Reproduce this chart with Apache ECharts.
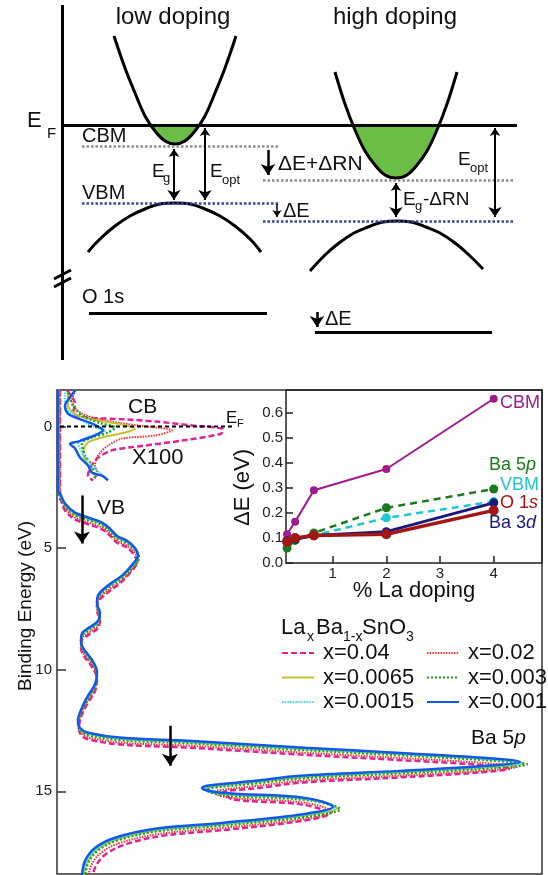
<!DOCTYPE html>
<html>
<head>
<meta charset="utf-8">
<title>La-doped BaSnO3 band shifts</title>
<script src="https://cdn.jsdelivr.net/npm/echarts@6/dist/echarts.min.js"></script>
<style>
  html, body { margin: 0; padding: 0; background: #fff; }
  #chart { width: 548px; height: 875px; }
</style>
</head>
<body>
<div id="chart"></div>
<script>
// ---------------- spectra (binding energy in eV, intensity in arb. units) ----------------
const beX001 = [-1.5,2.7,2.76,3.17,3.54,3.74,3.95,4.2,4.5,4.7,5.0,5.3,5.64,6.13,6.54,6.95,7.3,7.65,8.0,8.3,8.5,8.8,9.1,9.6,10.1,10.6,11.07,11.56,12.1,12.4,12.59,12.8,12.92,13.21,13.42,13.62,13.79,13.95,14.16,14.36,14.57,14.77,14.86,15.06,15.27,15.64,15.93,16.3,16.54,16.91,17.33,17.86,18.44];
const inX001 = [1,1,3,8,18,31,45,53,60,70,78,81,76,65,51,41,40,43,41,31,25,24,26,35,40,38,31,25,21,23,31,65,131,248,343,426,463,430,343,243,198,150,145,165,248,276,248,165,98,58,38,28,25];
const beX0015 = [-1.5,2.74,2.8,3.21,3.58,3.78,3.99,4.24,4.54,4.74,5.04,5.34,5.68,6.17,6.58,6.99,7.34,7.69,8.04,8.34,8.54,8.84,9.14,9.64,10.14,10.64,11.11,11.6,12.14,12.44,12.63,12.84,12.96,13.25,13.46,13.66,13.83,13.99,14.2,14.4,14.61,14.81,14.9,15.1,15.31,15.68,15.97,16.34,16.58,16.95,17.37,17.9,18.48];
const inX0015 = [2,2,3,8,18,31,45,53,60,70,78,81,76,65,51,41,40,43,41,31,25,24,26,35,40,38,31,25,21,23,31,65,131,248,343,427,465,431,343,243,198,151,146,166,249,278,249,166,99,59,39,29,26];
const beX0065 = [-1.5,2.76,2.82,3.23,3.6,3.8,4.01,4.26,4.56,4.76,5.06,5.36,5.7,6.19,6.6,7.01,7.36,7.71,8.06,8.36,8.56,8.86,9.16,9.66,10.16,10.66,11.13,11.62,12.16,12.46,12.65,12.86,12.98,13.27,13.48,13.68,13.85,14.01,14.22,14.42,14.63,14.83,14.92,15.12,15.33,15.7,15.99,16.36,16.6,16.97,17.39,17.92,18.5];
const inX0065 = [2,2,3,8,18,31,45,53,60,70,78,81,76,65,51,41,40,43,41,31,25,24,26,35,40,38,31,25,21,23,31,65,131,248,344,428,467,432,344,244,199,152,148,167,250,280,250,167,100,60,40,30,27];
const beX003 = [-1.5,2.8,2.86,3.27,3.64,3.84,4.05,4.3,4.6,4.8,5.1,5.4,5.74,6.23,6.64,7.05,7.4,7.75,8.1,8.4,8.6,8.9,9.2,9.7,10.2,10.7,11.17,11.66,12.2,12.5,12.69,12.9,13.02,13.31,13.52,13.72,13.89,14.05,14.26,14.46,14.67,14.87,14.96,15.16,15.37,15.74,16.03,16.4,16.64,17.01,17.43,17.96,18.54];
const inX003 = [2,2,3,8,18,31,45,53,60,70,79,82,77,65,51,41,40,43,41,31,25,24,26,35,40,38,31,25,21,23,31,65,131,249,345,430,470,434,345,245,200,154,150,168,252,283,252,168,101,61,41,31,28];
const beX02 = [-1.5,2.9,2.96,3.37,3.74,3.94,4.15,4.4,4.7,4.9,5.2,5.5,5.84,6.33,6.74,7.15,7.5,7.85,8.2,8.5,8.7,9.0,9.3,9.8,10.3,10.8,11.27,11.76,12.3,12.6,12.79,13.0,13.12,13.41,13.62,13.82,13.99,14.15,14.36,14.56,14.77,14.97,15.06,15.26,15.47,15.84,16.13,16.5,16.74,17.11,17.53,18.06,18.64];
const inX02 = [3,3,4,8,18,31,45,53,60,70,78,81,76,65,51,41,40,43,41,31,25,24,26,35,40,38,31,25,22,24,32,65,131,247,340,422,460,427,341,245,202,160,158,172,248,275,248,168,104,64,44,34,31];
const beX04 = [-1.5,2.98,3.04,3.45,3.82,4.02,4.23,4.48,4.78,4.98,5.28,5.58,5.92,6.41,6.82,7.23,7.58,7.93,8.28,8.58,8.78,9.08,9.38,9.88,10.38,10.88,11.35,11.84,12.38,12.68,12.87,13.08,13.2,13.49,13.7,13.9,14.07,14.23,14.44,14.64,14.85,15.05,15.14,15.34,15.55,15.92,16.21,16.58,16.82,17.19,17.61,18.14,18.72];
const inX04 = [3,3,4,8,18,31,45,53,60,70,77,80,75,64,51,41,40,43,41,31,25,24,26,35,40,38,31,25,22,24,32,64,129,244,336,418,452,421,338,245,204,166,168,176,246,272,246,170,107,68,48,38,35];

// conduction band region, magnified x100: [intensity, binding energy]
const cbX001 = [[18,-1.48],[13,-1.19],[8,-0.86],[11,-0.53],[21,-0.33],[35,-0.12],[46,0.16],[38,0.37],[21,0.62],[13,0.72],[18,0.9],[23,1.28],[31,1.6],[35,1.9],[45,2.02],[51,2.22]];
const cbX0015 = [[8,-1.4],[8,-0.86],[21,-0.37],[38,0.04],[48,0.16],[35,0.37],[21,0.66],[25,1.07],[35,1.6],[48,2.1]];
const cbX003 = [[11,-1.4],[16,-0.86],[25,-0.45],[45,-0.12],[58,0.04],[51,0.25],[35,0.45],[25,0.7],[28,1.2],[35,1.6],[38,2.14]];
const cbX0065 = [[11,-1.4],[11,-0.86],[21,-0.45],[41,-0.25],[65,-0.08],[78,0.08],[68,0.25],[45,0.45],[31,0.66],[26,1.07],[31,1.6],[38,2.0]];
const cbX02 = [[18,-1.48],[15,-1.0],[25,-0.53],[48,-0.25],[81,-0.04],[115,0.16],[98,0.37],[65,0.5],[51,0.78],[41,1.2],[38,1.6],[40,1.9],[38,2.14]];
const cbX04 = [[10,-1.48],[18,-0.95],[16,-0.55],[30,-0.37],[65,-0.3],[100,-0.2],[135,-0.04],[166,0.12],[164,0.3],[125,0.58],[85,0.8],[55,0.98],[40,1.32],[33,1.73],[31,2.02],[36,2.22]];

const efLine = [[3,0],[178,0]];
const specArrows = [[25,2.84,25,4.81],[113,12.3,113,13.95]];
const beTicks = [0,5,10,15];

// ---------------- inset: shift vs La doping ----------------
const dopingPct = [0.15,0.3,0.65,2,4];
const dECBM = [0.115,0.165,0.29,0.375,0.655];
const dEBa5p = [0.06,0.09,0.12,0.22,0.295];
const dEVBM = [0.09,0.1,0.11,0.18,0.245];
const dEBa3d = [0.09,0.095,0.11,0.125,0.24];
const dEO1s = [0.085,0.1,0.11,0.115,0.21];
const dopingTicks = [1,2,3,4];
const dETicks = [0,0.1,0.2,0.3,0.4,0.5,0.6];

// ---------------- band diagram (drawing units) ----------------
const cbLowX = [114,125,135,145,155,165,175,185,195,205,215,225,236];
const cbLowY = [36,68,93,116,131,141,144,141,131,116,93,68,36];
const vbLowX = [88,100,115,130,145,160,175,190,205,220,235,250,261];
const vbLowY = [252,239,226,216,209,204,203,204,209,216,226,239,252];
const cbHighX = [335,345,355,365,375,385,396,407,417,427,437,447,457];
const cbHighY = [72,104,130,151,165,175,178,175,165,151,130,104,72];
const vbHighX = [310,325,339,354,368,383,397,411,426,440,455,469,483];
const vbHighY = [271,255,243,233,227,222,221,222,227,233,243,255,269];
const fillLowX = [148,155,160,165,170,175,180,185,190,195,200];
const fillLowY = [125,132,137,141,143,144,143,141,137,132,125];
const fillHighX = [353,355,365,375,385,396,407,417,427,437,439];
const fillHighY = [125,130,151,165,175,178,175,165,151,130,125];
// segments [x1, y1, x2, y2]
const solidSegs = [[62,5,62,360],[62,125,517,125],[54,279,71,270],[54,287,71,278],[89,313,267,313],[315,332,492,332]];
const cbmLevels = [[82,146,278,146],[263,180,515,180]];
const vbmLevels = [[82,203,278,203],[263,221,515,221]];
const bothArrows = [[174,149,174,200],[205,128,205,200],[396,183,396,217],[495,128,495,217]];
const downArrows = [[268,150,268,175],[317,312,317,327]];
const smallArrows = [[277,204,277,217]];

const FONT = '"Liberation Sans", Arial, sans-serif';
const zip = (a, b) => a.map((v, i) => [v, b[i]]);
const segData = segs => segs.map(s => ({ coords: [[s[0], s[1]], [s[2], s[3]]] }));

const chart = echarts.init(document.getElementById('chart'), null, { renderer: 'canvas' });

function curve(xs, ys) {
    return {
        type: 'line', xAxisIndex: 0, yAxisIndex: 0, data: zip(xs, ys), smooth: 0.4,
        symbol: 'none', silent: true, z: 3, lineStyle: { color: '#000', width: 3 }
    };
}
function fill(xs, ys) {
    return {
        type: 'custom', xAxisIndex: 0, yAxisIndex: 0, silent: true, z: 2, data: zip(xs, ys),
        renderItem: function (params, api) {
            if (params.dataIndex !== 0) return null;
            const pts = xs.map((x, i) => api.coord([x, ys[i]]));
            return { type: 'polygon', shape: { points: pts }, style: { fill: '#6cbd45' } };
        }
    };
}
function segs(data, style, symbol, size, ax) {
    return {
        type: 'lines', coordinateSystem: 'cartesian2d', xAxisIndex: ax || 0, yAxisIndex: ax || 0,
        silent: true, z: 4, polyline: false, symbol: symbol || 'none', symbolSize: size || 10,
        lineStyle: Object.assign({ color: '#000', width: 2, opacity: 1, curveness: 0 }, style),
        data: segData(data)
    };
}

// spectra styles
const specStyle = {
    'x=0.04':   { color: '#e0219b', width: 2.5, type: [6, 3] },
    'x=0.02':   { color: '#f5332f', width: 2, type: [1.5, 1.2] },
    'x=0.0065': { color: '#c4c12e', width: 2, type: 'solid' },
    'x=0.003':  { color: '#1fa01f', width: 2.5, type: [2, 2] },
    'x=0.0015': { color: '#35e0f0', width: 2, type: [1.5, 1.2] },
    'x=0.001':  { color: '#1357e8', width: 2.5, type: 'solid' }
};
const specMain = [
    ['x=0.04', zip(inX04, beX04), cbX04],
    ['x=0.02', zip(inX02, beX02), cbX02],
    ['x=0.0065', zip(inX0065, beX0065), cbX0065],
    ['x=0.003', zip(inX003, beX003), cbX003],
    ['x=0.0015', zip(inX0015, beX0015), cbX0015],
    ['x=0.001', zip(inX001, beX001), cbX001]
];

const series = [
    fill(fillLowX, fillLowY), fill(fillHighX, fillHighY),
    curve(cbLowX, cbLowY), curve(vbLowX, vbLowY), curve(cbHighX, cbHighY), curve(vbHighX, vbHighY),
    segs(solidSegs, { width: 3 }),
    segs(cbmLevels, { color: '#8c8c8c', width: 2.5, type: [2.5, 2] }),
    segs(vbmLevels, { color: '#3546a6', width: 2.5, type: [2.5, 2] }),
    segs(bothArrows, { width: 2 }, ['arrow', 'arrow'], [8, 10]),
    segs(downArrows, { width: 2.5 }, ['none', 'arrow'], [9, 11]),
    segs(smallArrows, { width: 1.5 }, ['none', 'arrow'], [6, 7])
];

specMain.forEach(function (s) {
    const st = specStyle[s[0]];
    series.push({
        name: s[0], type: 'line', xAxisIndex: 1, yAxisIndex: 1, data: s[1], smooth: 0.35,
        symbol: 'none', silent: true, z: 3, lineStyle: st, itemStyle: { color: st.color }
    });
    series.push({
        name: s[0], type: 'line', xAxisIndex: 1, yAxisIndex: 1, data: s[2], smooth: 0.3,
        symbol: 'none', silent: true, z: 3, lineStyle: st, itemStyle: { color: st.color }
    });
});
series.push({
    type: 'line', xAxisIndex: 1, yAxisIndex: 1, data: efLine, symbol: 'none', silent: true, z: 5,
    lineStyle: { color: '#000', width: 2, type: [4, 3] }
});
series.push(segs(specArrows, { width: 2.5 }, ['none', 'arrow'], [9, 12], 1));

// inset
const insetDefs = [
    [dECBM, '#a0198f', 2, 'solid', 8],
    [dEBa5p, '#1b7a1b', 2.5, [7, 5], 9],
    [dEVBM, '#22c5d4', 2.5, [7, 5], 9],
    [dEBa3d, '#1b1a7a', 3, 'solid', 9],
    [dEO1s, '#a31616', 3.5, 'solid', 10]
];
insetDefs.forEach(function (d) {
    series.push({
        type: 'line', xAxisIndex: 2, yAxisIndex: 2, data: zip(dopingPct, d[0]), silent: true, z: 6,
        symbol: 'circle', symbolSize: d[4], clip: false,
        lineStyle: { color: d[1], width: d[2], type: d[3] }, itemStyle: { color: d[1] }
    });
});

function txt(x, y, text, size, color, extra) {
    return {
        type: 'text', x: x, y: y, silent: true, z: 100,
        style: Object.assign({
            text: text, fontSize: size, fontFamily: FONT, fill: color || '#111',
            align: 'left', verticalAlign: 'middle'
        }, extra || {})
    };
}
function italicTail(x, y, a, b, size, color) {
    return txt(x, y, '{n|' + a + '}{i|' + b + '}', size, color, {
        rich: {
            n: { fontSize: size, fontFamily: FONT, fill: color },
            i: { fontSize: size, fontFamily: FONT, fill: color, fontStyle: 'italic' }
        }
    });
}

const graphics = [
    txt(173, 17, 'low doping', 24, '#111', { align: 'center' }),
    txt(395, 17, 'high doping', 24, '#111', { align: 'center' }),
    txt(27, 121, 'E', 22), txt(47, 134, 'F', 15),
    txt(82, 136, 'CBM', 20), txt(82, 193, 'VBM', 20),
    txt(152, 172, 'E', 19), txt(163, 178, 'g', 13),
    txt(210, 172, 'E', 19), txt(222, 180, 'opt', 13),
    txt(82, 297, 'O 1s', 20),
    txt(278, 164, 'ΔE+ΔRN', 21),
    txt(283, 211, 'ΔE', 20),
    txt(458, 160, 'E', 19), txt(470, 168, 'opt', 13),
    txt(403, 200, 'E', 19), txt(415, 206, 'g', 13), txt(423, 200, '-ΔRN', 19),
    txt(325, 319, 'ΔE', 20),
    // spectra annotations
    txt(128, 407, 'CB', 21),
    txt(226, 418, 'E', 17), txt(237, 424, 'F', 11),
    txt(132, 458, 'X100', 22),
    txt(97, 508, 'VB', 21),
    italicTail(471, 738, 'Ba 5', 'p', 21, '#111'),
    // legend title
    txt(281, 628, 'La', 22), txt(307, 637, 'x', 14), txt(316, 628, 'Ba', 22),
    txt(343, 637, '1-x', 14), txt(362, 628, 'SnO', 22), txt(406, 637, '3', 14),
    // inset labels
    txt(500, 403, 'CBM', 18, '#a0198f'),
    italicTail(489, 465, 'Ba 5', 'p', 18, '#1b7a1b'),
    txt(500, 485, 'VBM', 18, '#22c5d4'),
    italicTail(500, 503, 'O 1', 's', 18, '#a31616'),
    italicTail(489, 523, 'Ba 3', 'd', 18, '#1b1a7a')
];

const legendBase = {
    orient: 'vertical', top: 642, padding: 0, itemWidth: 32, itemHeight: 12, itemGap: 2.5,
    selectedMode: false,
    itemStyle: { opacity: 0 },
    lineStyle: { opacity: 1 },
    textStyle: { fontSize: 22, fontFamily: FONT, color: '#111', lineHeight: 22, padding: [0, 0, 0, 4] }
};

chart.setOption({
    animation: false,
    backgroundColor: '#fff',
    grid: [
        { left: 0, top: 0, width: 548, height: 370, show: false },
        { left: 57, top: 390, width: 485, height: 484, show: true, borderColor: '#333', borderWidth: 1.5, backgroundColor: 'transparent' },
        { left: 286, top: 390, width: 256, height: 173, show: true, borderColor: '#222', borderWidth: 1.5, backgroundColor: 'transparent' }
    ],
    xAxis: [
        { gridIndex: 0, type: 'value', min: 0, max: 548, show: false },
        { gridIndex: 1, type: 'value', min: 0, max: 485, show: false },
        {
            gridIndex: 2, type: 'value', min: 0.13, max: 4.9,
            axisLine: { show: false }, splitLine: { show: false },
            axisTick: { inside: true, length: 7, customValues: dopingTicks, lineStyle: { color: '#222', width: 1.5 } },
            axisLabel: { customValues: dopingTicks, fontSize: 15, color: '#222', margin: 3, fontFamily: FONT },
            name: '% La doping', nameLocation: 'middle', nameGap: 17, nameMoveOverlap: false,
            nameTextStyle: { fontSize: 22, color: '#111', fontFamily: FONT }
        }
    ],
    yAxis: [
        { gridIndex: 0, type: 'value', min: 0, max: 370, inverse: true, show: false },
        {
            gridIndex: 1, type: 'value', min: -1.5, max: 18.4, inverse: true,
            axisLine: { show: false }, splitLine: { show: false },
            axisTick: { inside: true, length: 9, customValues: beTicks, lineStyle: { color: '#333', width: 1.5 } },
            axisLabel: { customValues: beTicks, fontSize: 15, color: '#222', margin: 5, fontFamily: FONT },
            name: 'Binding Energy (eV)', nameLocation: 'middle', nameGap: 22, nameRotate: 90, nameMoveOverlap: false,
            nameTextStyle: { fontSize: 19, color: '#111', fontFamily: FONT, padding: [0, 0, 0, 52] }
        },
        {
            gridIndex: 2, type: 'value', min: 0, max: 0.69,
            axisLine: { show: false }, splitLine: { show: false },
            axisTick: { inside: true, length: 7, customValues: dETicks, lineStyle: { color: '#222', width: 1.5 } },
            axisLabel: { customValues: dETicks, fontSize: 15, color: '#222', margin: 3, fontFamily: FONT, formatter: v => v.toFixed(1) },
            name: 'ΔE (eV)', nameLocation: 'middle', nameGap: 32, nameRotate: 90, nameMoveOverlap: false,
            nameTextStyle: { fontSize: 22, color: '#111', fontFamily: FONT, padding: [0, 22, 0, 0] }
        }
    ],
    legend: [
        Object.assign({}, legendBase, { left: 281, data: ['x=0.04', 'x=0.0065', 'x=0.0015'] }),
        Object.assign({}, legendBase, { left: 426, data: ['x=0.02', 'x=0.003', 'x=0.001'] })
    ],
    graphic: graphics,
    series: series
});
</script>
</body>
</html>
